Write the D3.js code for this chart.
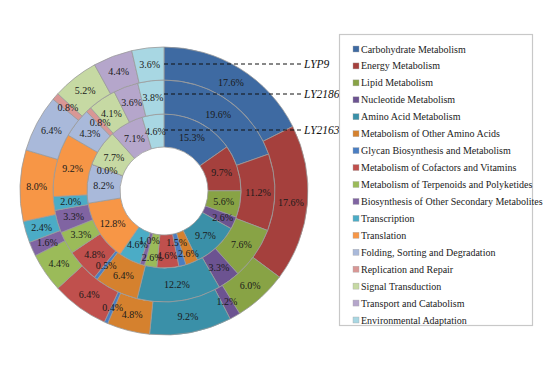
<!DOCTYPE html>
<html><head><meta charset="utf-8">
<script src="https://cdn.jsdelivr.net/npm/d3@7"></script>
<style>body{margin:0;background:#fff}svg{display:block}</style>
</head><body>
<svg id="c" width="546" height="372"></svg>
<script>
const categories = ["Carbohydrate Metabolism","Energy Metabolism","Lipid Metabolism","Nucleotide Metabolism","Amino Acid Metabolism","Metabolism of Other Amino Acids","Glycan Biosynthesis and Metabolism","Metabolism of Cofactors and Vitamins","Metabolism of Terpenoids and Polyketides","Biosynthesis of Other Secondary Metabolites","Transcription","Translation","Folding, Sorting and Degradation","Replication and Repair","Signal Transduction","Transport and Catabolism","Environmental Adaptation"];
const ly2163 = [15.3,9.7,5.6,2.6,9.7,2.6,1.5,4.6,2.6,1.0,4.6,12.8,8.2,0.0,7.7,7.1,4.6];
const ly2186 = [19.6,11.2,7.6,3.3,12.2,6.4,0.5,4.8,3.3,3.3,2.0,9.2,4.3,0.8,4.1,3.6,3.8];
const lyp9 = [17.6,17.6,6.0,1.2,9.2,4.8,0.4,6.4,4.4,1.6,2.4,8.0,6.4,0.8,5.2,4.4,3.6];
const ringNames = ["LY2163","LY2186","LYP9"];
const colors = ["#3E6AA2","#A5403D","#88A345","#6C5391","#3A90A8","#D5812E","#4A7EC2","#C0504D","#9BBB59","#8064A2","#4BACC6","#F79646","#A9B9DA","#D99795","#C6D9A3","#B5A6CB","#A8D7E3"];

const svg = d3.select("#c");
const cx = 164, cy = 191;
const radii = [44, 77, 111, 144];
const g = svg.append("g").attr("transform", `translate(${cx},${cy})`);
const color = d3.scaleOrdinal().domain(categories).range(colors);
const pie = d3.pie().sort(null).value(d => d.v);
const rings = [ly2163, ly2186, lyp9];
// radial nudges (px) for crowded labels of the inner ring, by category index
const innerNudge = {3: 4, 5: 7, 6: -7, 7: 4, 8: 7, 9: -9, 10: -1};

rings.forEach((vals, ri) => {
  const arc = d3.arc().innerRadius(radii[ri]).outerRadius(radii[ri+1]);
  const data = pie(vals.map((v, i) => ({v, c: categories[i], i})));
  g.selectAll(null).data(data).enter().append("path")
    .attr("d", arc)
    .attr("fill", d => color(d.data.c))
    .attr("stroke", "#9a9a9a").attr("stroke-width", 0.8);
  g.selectAll(null).data(data).enter().append("text")
    .attr("transform", d => {
      const a = (d.startAngle + d.endAngle) / 2;
      let r = (radii[ri] + radii[ri+1]) / 2;
      if (ri === 0 && innerNudge[d.data.i]) r += innerNudge[d.data.i];
      return `translate(${r * Math.sin(a)},${-r * Math.cos(a)})`;
    })
    .attr("text-anchor", "middle").attr("dy", "0.35em")
    .attr("font-family", "Liberation Serif, Times New Roman, serif")
    .attr("font-size", 10).attr("fill", "#1a1a1a")
    .text(d => d.data.v.toFixed(1) + "%");
});

// ring name pointers
const ringLabelY = [130, 94, 64];
ringNames.forEach((n, i) => {
  svg.append("line").attr("x1", cx).attr("x2", 301)
    .attr("y1", ringLabelY[i]).attr("y2", ringLabelY[i])
    .attr("stroke", "#111").attr("stroke-width", 1).attr("stroke-dasharray", "4,3");
  svg.append("text").attr("x", 304).attr("y", ringLabelY[i]).attr("dy", "0.35em")
    .attr("font-family", "Liberation Serif, Times New Roman, serif")
    .attr("font-style", "italic").attr("font-size", 11.5).attr("fill", "#111").text(n);
});

// legend
svg.append("rect").attr("x", 339.5).attr("y", 34.5).attr("width", 193).attr("height", 291)
  .attr("fill", "#fff").attr("stroke", "#c8c8c8").attr("stroke-width", 1.2);
const lg = svg.append("g");
const ly = d3.scalePoint().domain(categories).range([49, 320]);
categories.forEach(c => {
  lg.append("rect").attr("x", 353).attr("y", ly(c) - 3).attr("width", 6).attr("height", 6)
    .attr("fill", color(c)).attr("stroke", "#aaa").attr("stroke-width", 0.4);
  lg.append("text").attr("x", 361).attr("y", ly(c)).attr("dy", "0.35em")
    .attr("font-family", "Liberation Serif, Times New Roman, serif")
    .attr("font-size", 10).attr("fill", "#222").text(c);
});
</script>
</body></html>
